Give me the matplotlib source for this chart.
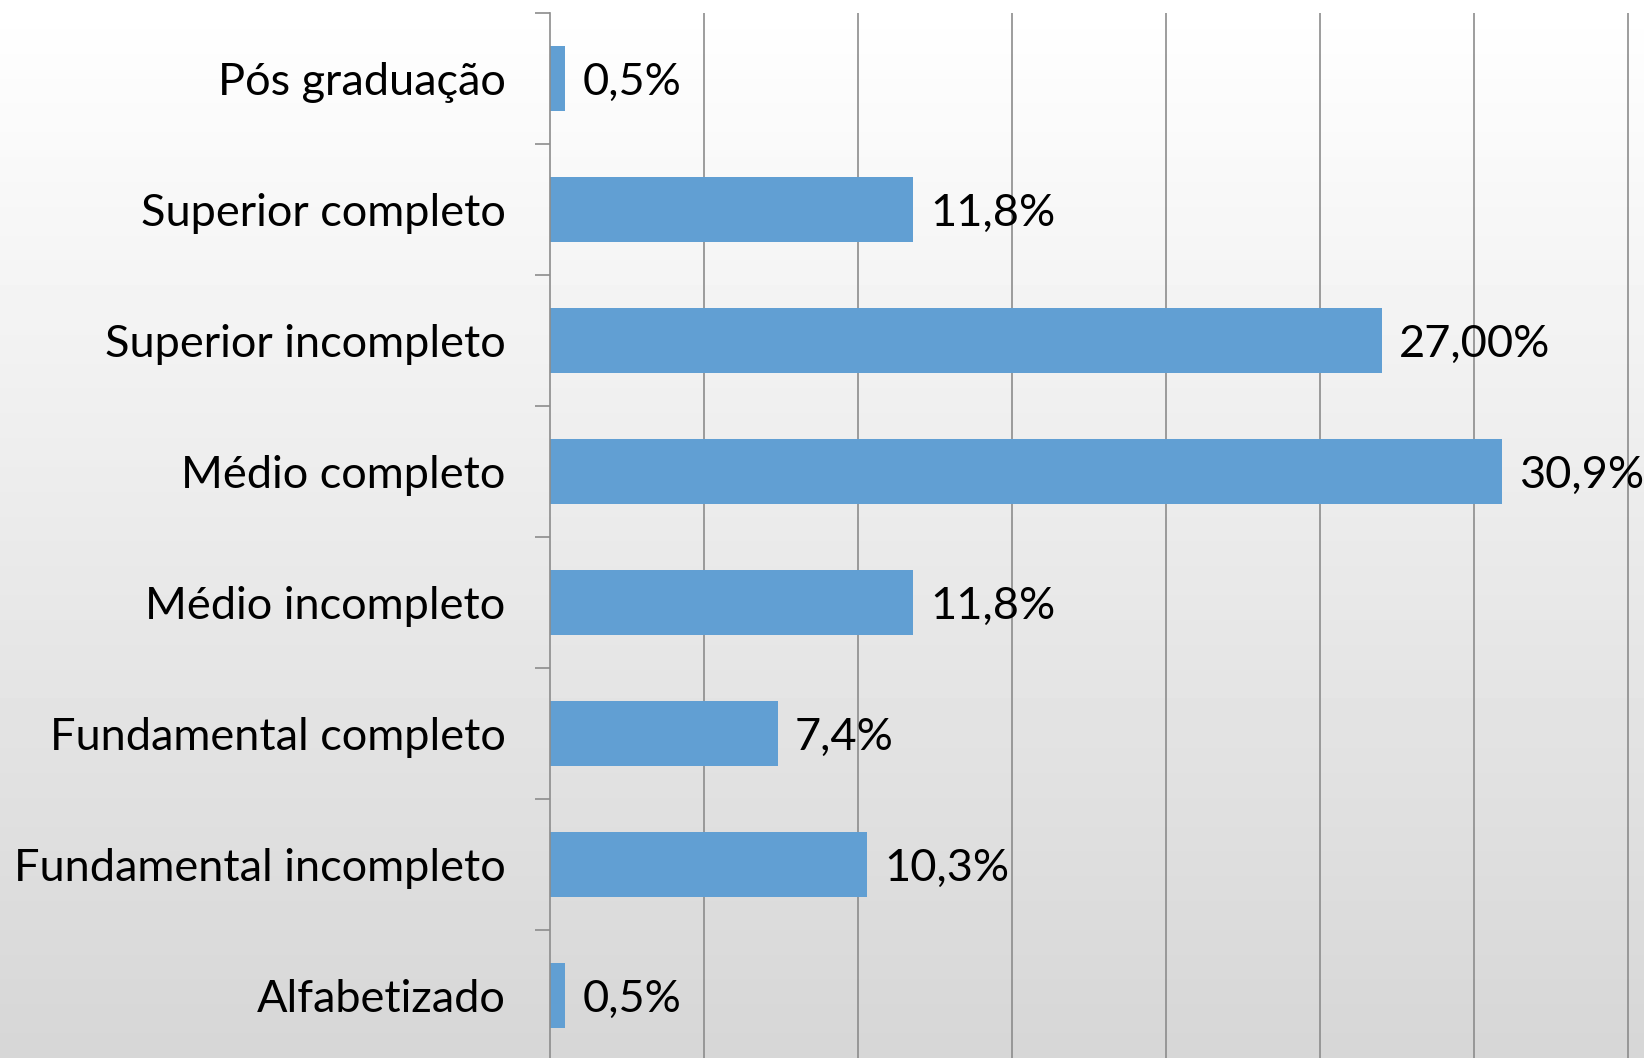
import matplotlib.pyplot as plt
import numpy as np

categories = ['Pós graduação', 'Superior completo', 'Superior incompleto',
              'Médio completo', 'Médio incompleto', 'Fundamental completo',
              'Fundamental incompleto', 'Alfabetizado']
values = [0.5, 11.8, 27.0, 30.9, 11.8, 7.4, 10.3, 0.5]
value_labels = ['0,5%', '11,8%', '27,00%', '30,9%', '11,8%', '7,4%',
                '10,3%', '0,5%']

plt.rcParams['font.family'] = ['Lato', 'DejaVu Sans']

fig = plt.figure(figsize=(16.44, 10.58), dpi=100)

# gradient background, white at top to light grey at bottom
bg = fig.add_axes([0, 0, 1, 1], zorder=0)
grad = np.linspace(1.0, 0.84, 256).reshape(-1, 1)
bg.imshow(grad, aspect='auto', cmap='gray', vmin=0, vmax=1,
          extent=[0, 1, 0, 1])
bg.axis('off')

ax = fig.add_axes([550 / 1644, -3 / 1058, 1 - 550 / 1644, 1048 / 1058],
                  zorder=1)
ax.patch.set_alpha(0)

y = np.arange(len(categories))
ax.barh(y, values, height=0.5, color='#619fd3', zorder=2)

for yi, v, lab in zip(y, values, value_labels):
    ax.text(v + 0.55, yi + 0.03, lab, va='center', ha='left', fontsize=32.5,
            color='black', zorder=3)

ax.set_xlim(0, 35.52)
ax.set_ylim(len(categories) - 0.5, -0.5)

ax.set_xticks(np.arange(5, 36, 5))
ax.xaxis.grid(True, color='#8c8c8c', linewidth=1.2)
ax.tick_params(axis='x', length=0, labelbottom=False)

ax.set_yticks(y, categories, fontsize=32.5)
ax.set_yticks(np.arange(-0.5, len(categories), 1), minor=True)
ax.tick_params(axis='y', which='major', length=0, pad=32)
ax.tick_params(axis='y', which='minor', length=11, width=1.2,
               color='#8c8c8c')

for side in ['top', 'right', 'bottom']:
    ax.spines[side].set_visible(False)
ax.spines['left'].set_color('#8c8c8c')
ax.spines['left'].set_linewidth(1.2)

plt.savefig('out.png', dpi=100)
